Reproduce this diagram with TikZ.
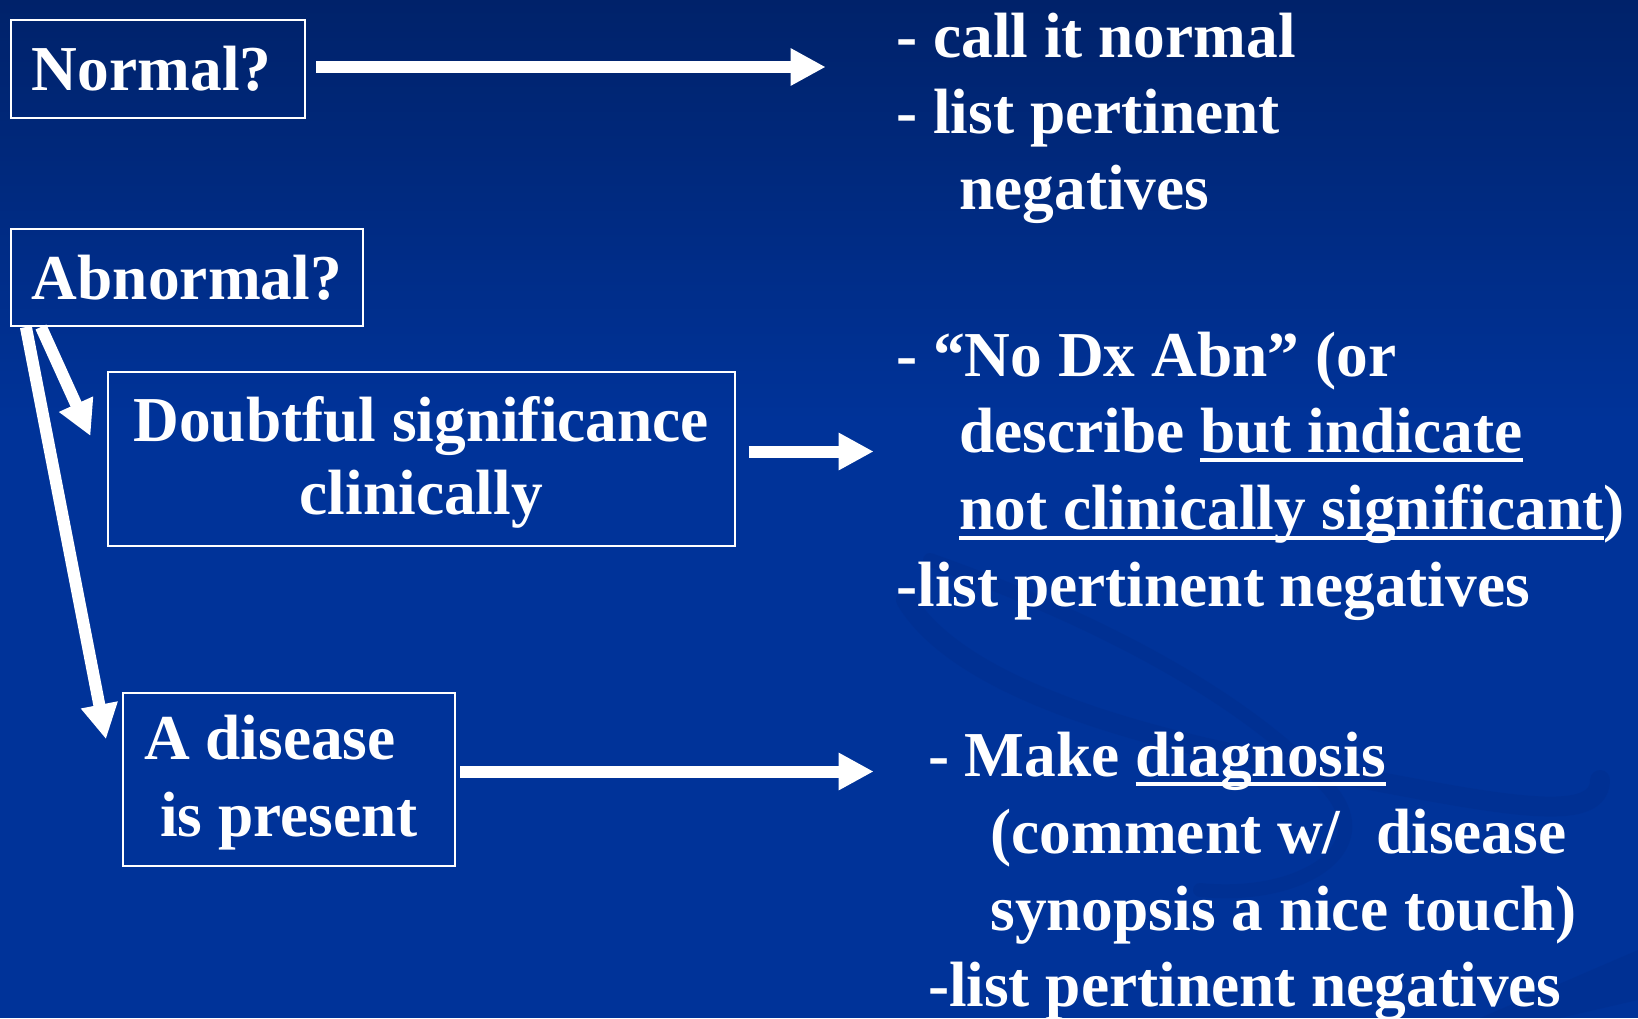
\documentclass[tikz,border=0pt]{standalone}
\usepackage{fontspec}
\setmainfont{Liberation Serif}[FakeStretch=0.99]
\usetikzlibrary{arrows.meta,calc}
\definecolor{bgtop}{RGB}{0,34,106}
\definecolor{bgmain}{RGB}{0,51,153}
\definecolor{swirlc}{RGB}{0,42,132}
\newsavebox\ulbox
\newcommand\myul[1]{\sbox\ulbox{#1}\rlap{\rule[-5pt]{\wd\ulbox}{2pt}}\usebox\ulbox}
\begin{document}
\begin{tikzpicture}[x=0.5pt,y=-0.5pt,
  every node/.style={text=white},
  txt/.style={font=\fontsize{32pt}{38pt}\selectfont\bfseries},
  box/.style={txt, draw=white, line width=1pt, anchor=north west, inner ysep=0pt},
  line/.style={txt, anchor=base west, inner sep=0pt},
  arr/.style={white, line width=6pt, -{Triangle[length=17.5pt,width=17.5pt]}}]
\useasboundingbox (0,0) rectangle (1638,1018);
% background
\fill[bgmain] (0,0) rectangle (1638,1018);
\shade[top color=bgtop, bottom color=bgmain] (0,0) rectangle (1638,420);
\begin{scope}[swirlc, opacity=0.25, line cap=round]
  \draw[line width=10pt] (906,600) .. controls (960,690) and (1150,740) .. (1300,767) .. controls (1480,800) and (1600,830) .. (1600,780);
  \draw[line width=7pt] (930,560) .. controls (1100,620) and (1250,700) .. (1330,790) .. controls (1380,850) and (1300,900) .. (1200,890);
  \fill (1480,1018) -- (1638,950) -- (1638,1000) -- (1560,1018) -- cycle;
\end{scope}
% boxes
\node[box, minimum height=49.1pt, inner xsep=10.3pt, text width=126.2pt, align=flush left] (normal) at (10.4,18.8) {Normal?};
\node[box, minimum height=48.5pt, inner xsep=10.3pt, text width=155.4pt, align=flush left] (abnormal) at (10.4,228) {Abnormal?};
\node[box, minimum width=313.75pt, minimum height=87pt, align=center, font=\fontsize{32pt}{36.5pt}\selectfont\bfseries] (doubtful) at (106.5,371) {\rule{0pt}{25.5pt}Doubtful significance\\clinically};
\node[box, minimum height=86.75pt, inner xsep=10.5pt, text width=145pt, align=flush left, font=\fontsize{32pt}{38.5pt}\selectfont\bfseries] (disease) at (122,691.5) {\rule{0pt}{26pt}A disease\\\hspace*{8pt}is present};
% right column text
\node[line] (l1) at (896,57.5) {- call it normal};
\node[line] (l2) at (896,133.7) {- list pertinent};
\node[line] (l3) at (959,209) {negatives};
\node[line] (l4) at (896,376) {- ``No Dx Abn'' (or};
\node[line] (l5) at (959,452) {describe \myul{but indicate}};
\node[line] (l6) at (959,529.6) {\myul{not clinically significant})};
\node[line] (l7) at (896,606) {-list pertinent negatives};
\node[line] (l8) at (927.6,776) {- Make \myul{diagnosis}};
\node[line] (l9) at (990,853) {(comment w/\hspace{10pt} disease};
\node[line] (l10) at (990,930) {synopsis a nice touch)};
\node[line] (l11) at (927.6,1006) {-list pertinent negatives};
% arrow end points
\coordinate (e1) at (825.7,67);
\coordinate (e2) at (873.7,451.5);
\coordinate (e3) at (873.7,771.5);
% arrows
\draw[arr] ($(normal.east |- e1)+(10,0)$) -- (e1);
\draw[arr] ($(doubtful.east |- e2)+(12.5,0)$) -- (e2);
\draw[arr] ($(disease.east |- e3)+(4,0)$) -- (e3);
\draw[arr] ($(abnormal.south west)+(30.6,0)$) -- ($(doubtful.west)+(-16,-23)$);
\draw[arr] ($(abnormal.south west)+(15.5,0)$) -- ($(disease.west)+(-16,-40)$);
\end{tikzpicture}
\end{document}
